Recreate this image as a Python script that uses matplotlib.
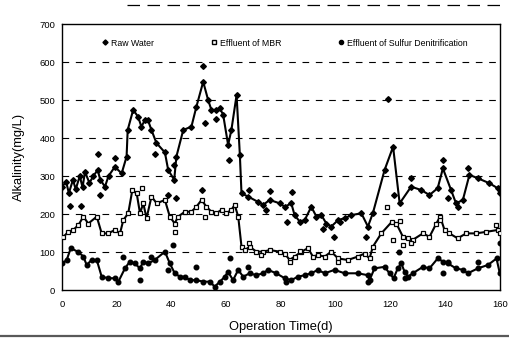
import matplotlib
matplotlib.use('Agg')
import matplotlib.pyplot as plt
from matplotlib.lines import Line2D

plt.rcParams['font.family'] = ['Liberation Sans', 'DejaVu Sans']

# Raw water: trend line points and off-line points
raw_day = [0, 1.5, 2.5, 4, 5, 6.5, 7.5, 8.4, 10, 11.5, 13, 14, 15.7, 17, 19.3, 21.8, 23.6, 24, 26,
           27.8, 29, 30.3, 31.4, 32.7, 34.5, 37.6, 38.8, 41, 41.8, 44.3, 47.3, 49.1, 51.6, 53.4,
           54.6, 56.4, 57.7, 58.9, 60.7, 61.9, 63.8, 65, 65.6, 68, 71.6, 73.5, 75.9, 79.6, 81.4,
           83.8, 85, 86.9, 88.7, 91.1, 93, 94.8, 96.6, 98.4, 100.9, 103.3, 105.7, 109.4, 111.8,
           113.6, 117.9, 121, 123.4, 127.6, 131.3, 134.3, 137.3, 139.2, 142.2, 144, 146.5, 148.9,
           152, 156.2, 159.2, 160]
raw_val = [272, 285, 255, 290, 265, 300, 270, 311, 282, 300, 316, 290, 272, 300, 324, 307, 351, 421, 474,
           456, 430, 447, 447, 421, 387, 362, 316, 290, 351, 421, 430, 482, 548, 500,
           474, 474, 478, 461, 382, 421, 513, 355, 254, 246, 232, 224, 237, 228, 219,
           228, 197, 180, 184, 219, 193, 197, 175, 167, 184, 189, 197, 202, 167,
           202, 316, 377, 228, 272, 263, 250, 268, 320, 263, 228, 237, 303,
           294, 281, 268, 254]
raw_x_day = [2.9, 6.9, 13.3, 14, 19.3, 34, 38.8, 41.6, 41, 51, 51.6, 52.2, 56.4, 61, 68.2, 75.9,
             74.7, 82.4, 84, 95.4, 99.4, 101.5, 111.2, 119, 121.2, 127.4, 139.2, 141, 144.6, 148.3]
raw_x_val = [222, 222, 357, 250, 348, 357, 250, 242, 329, 263, 589, 440, 449, 342, 263, 261,
             211, 178, 259, 160, 140, 180, 140, 502, 250, 294, 342, 241, 219, 320]

# Effluent of MBR
mbr_day = [0.5, 2.3, 4.1, 6, 7.8, 9.6, 12.7, 14.5, 16.9, 19.3, 21.2, 22.4, 24.2, 25.7, 27.3, 28.5,
           29.7, 30.9, 32.7, 34.6, 37.6, 39.4, 41.2, 42.4, 44.9, 47.3, 49.1, 51, 52.8, 54.6, 56.4,
           58.3, 60.1, 61.9, 63.1, 64.4, 65.6, 66.8, 68.6, 71, 73.5, 75.9, 79.6, 81.4, 83.2, 85,
           87.5, 89.9, 91.7, 93.5, 96, 98.4, 100.9, 104.5, 108.1, 110.6, 112.4, 113.6, 116.7,
           120.6, 122.2, 124.6, 126.4, 128.2, 131.9, 134.3, 136.8, 138.2, 139.8, 141.6, 144.6,
           147.7, 151.3, 155, 159.2, 160]
mbr_val = [140, 153, 158, 171, 193, 175, 193, 149, 149, 158, 149, 184, 202, 263, 254, 202,
           228, 189, 246, 228, 237, 193, 175, 193, 206, 206, 219, 237, 219, 206, 202,
           211, 202, 211, 224, 193, 114, 105, 114, 101, 101, 105, 101, 96, 79, 88,
           101, 110, 88, 92, 88, 101, 83, 79, 88, 96, 83, 114, 149,
           180, 175, 140, 136, 132, 149, 140, 175, 193, 158, 149, 136,
           149, 149, 153, 158, 149]
mbr_x_day = [29.4, 41.2, 52.2, 68.2, 72.9, 83.2, 86.9, 100.9, 118.9, 121, 123.4, 124.6, 127.6,
             138, 158.6]
mbr_x_val = [269, 153, 193, 123, 92, 75, 103, 75, 219, 132, 182, 118, 123, 184, 171]

# Effluent of sulfur denitrification
sul_day = [0.1, 1.7, 3.2, 6, 7.8, 9, 10.8, 12.7, 14.5, 16.9, 19.3, 20.6, 23, 24.8, 26.6, 28.5,
           29.7, 31.5, 33.9, 37.6, 39.4, 41.2, 43.1, 44.9, 46.7, 49.1, 51.6, 54, 55.8, 57.7,
           59.5, 60.7, 62.5, 64.4, 66.2, 68.6, 71, 73.5, 75.3, 78.3, 81.4, 83.8, 86.2, 88.7,
           91.1, 93.5, 96, 99.6, 103.3, 108.1, 111.8, 112.4, 114.2, 117.9, 119.7, 121.2, 122.7,
           124, 125.2, 126.4, 128.2, 131.9, 134.3, 137.3, 139.2, 141, 144, 146.5, 148.3, 152,
           155.7, 158.8, 160]
sul_val = [70, 79, 110, 100, 88, 66, 79, 79, 35, 31, 31, 22, 57, 75, 70, 57,
           75, 70, 79, 101, 70, 44, 35, 35, 26, 26, 22, 22, 9, 22,
           35, 48, 26, 53, 35, 44, 39, 44, 53, 44, 31, 26, 35, 39,
           44, 53, 44, 53, 44, 44, 39, 26, 57, 61, 44, 31, 57,
           70, 48, 35, 44, 61, 57, 83, 75, 70, 57, 53, 44, 57,
           66, 83, 44]
sul_x_day = [22.4, 28.5, 32.7, 38.8, 40.6, 49.1, 61.3, 68, 82, 111.8, 123.1, 125.2, 139.2,
             141, 152, 160]
sul_x_val = [88, 26, 88, 53, 118, 61, 83, 60, 22, 22, 101, 31, 44, 75, 75, 123]

fig = plt.figure(figsize=(5.1, 3.39), dpi=100)
ax = fig.add_axes([0.1216, 0.1445, 0.8584, 0.7847])

ms = 3.3
ax.plot(raw_day, raw_val, c='k', lw=1.5, zorder=3)
ax.plot(raw_day, raw_val, 'D', c='k', ms=ms - 0.4, zorder=4)
ax.plot(raw_x_day, raw_x_val, 'D', c='k', ms=ms - 0.4, zorder=4)

ax.plot(mbr_day, mbr_val, c='k', lw=1.5, zorder=3)
ax.plot(mbr_day, mbr_val, 's', mfc='white', mec='k', mew=0.9, ms=ms, zorder=4)
ax.plot(mbr_x_day, mbr_x_val, 's', mfc='white', mec='k', mew=0.9, ms=ms, zorder=4)

ax.plot(sul_day, sul_val, c='k', lw=1.5, zorder=3)
ax.plot(sul_day, sul_val, 'o', c='k', ms=ms, zorder=4)
ax.plot(sul_x_day, sul_x_val, 'o', c='k', ms=ms, zorder=4)

ax.set_xlim(0, 160)
ax.set_ylim(0, 700)
ax.set_xticks(range(0, 161, 20))
ax.set_yticks(range(0, 701, 100))
ax.tick_params(length=0, labelsize=6.8)
ax.tick_params(axis='x', pad=7)
ax.tick_params(axis='y', pad=5)
for v in range(100, 700, 100):
    ax.axhline(v, color='k', lw=0.8, ls=(0, (6, 6)), zorder=1)
for s in ax.spines.values():
    s.set_linewidth(1.0)

ax.set_xlabel('Operation Time(d)', fontsize=9.3, labelpad=9)
ax.set_ylabel('Alkalinity(mg/L)', fontsize=9.3, labelpad=10)

handles = [Line2D([], [], ls='', marker='D', c='k', ms=2.6),
           Line2D([], [], ls='', marker='s', mfc='white', mec='k', ms=3),
           Line2D([], [], ls='', marker='o', c='k', ms=3)]
ax.legend(handles, ['Raw Water', 'Effluent of MBR', 'Effluent of Sulfur Denitrification'],
          loc='upper center', bbox_to_anchor=(0.51, 0.975), ncol=3, frameon=False,
          fontsize=6.3, handlelength=0.6, handletextpad=0.4, columnspacing=6.5)

# scan edge marks
fig.add_artist(Line2D([0.25, 0.99], [0.985, 0.985], color='k', lw=0.9, ls=(0, (10, 6))))
fig.add_artist(Line2D([0.0, 1.0], [0.008, 0.008], color='0.35', lw=1.6))

fig.savefig('out.png', dpi=100)
